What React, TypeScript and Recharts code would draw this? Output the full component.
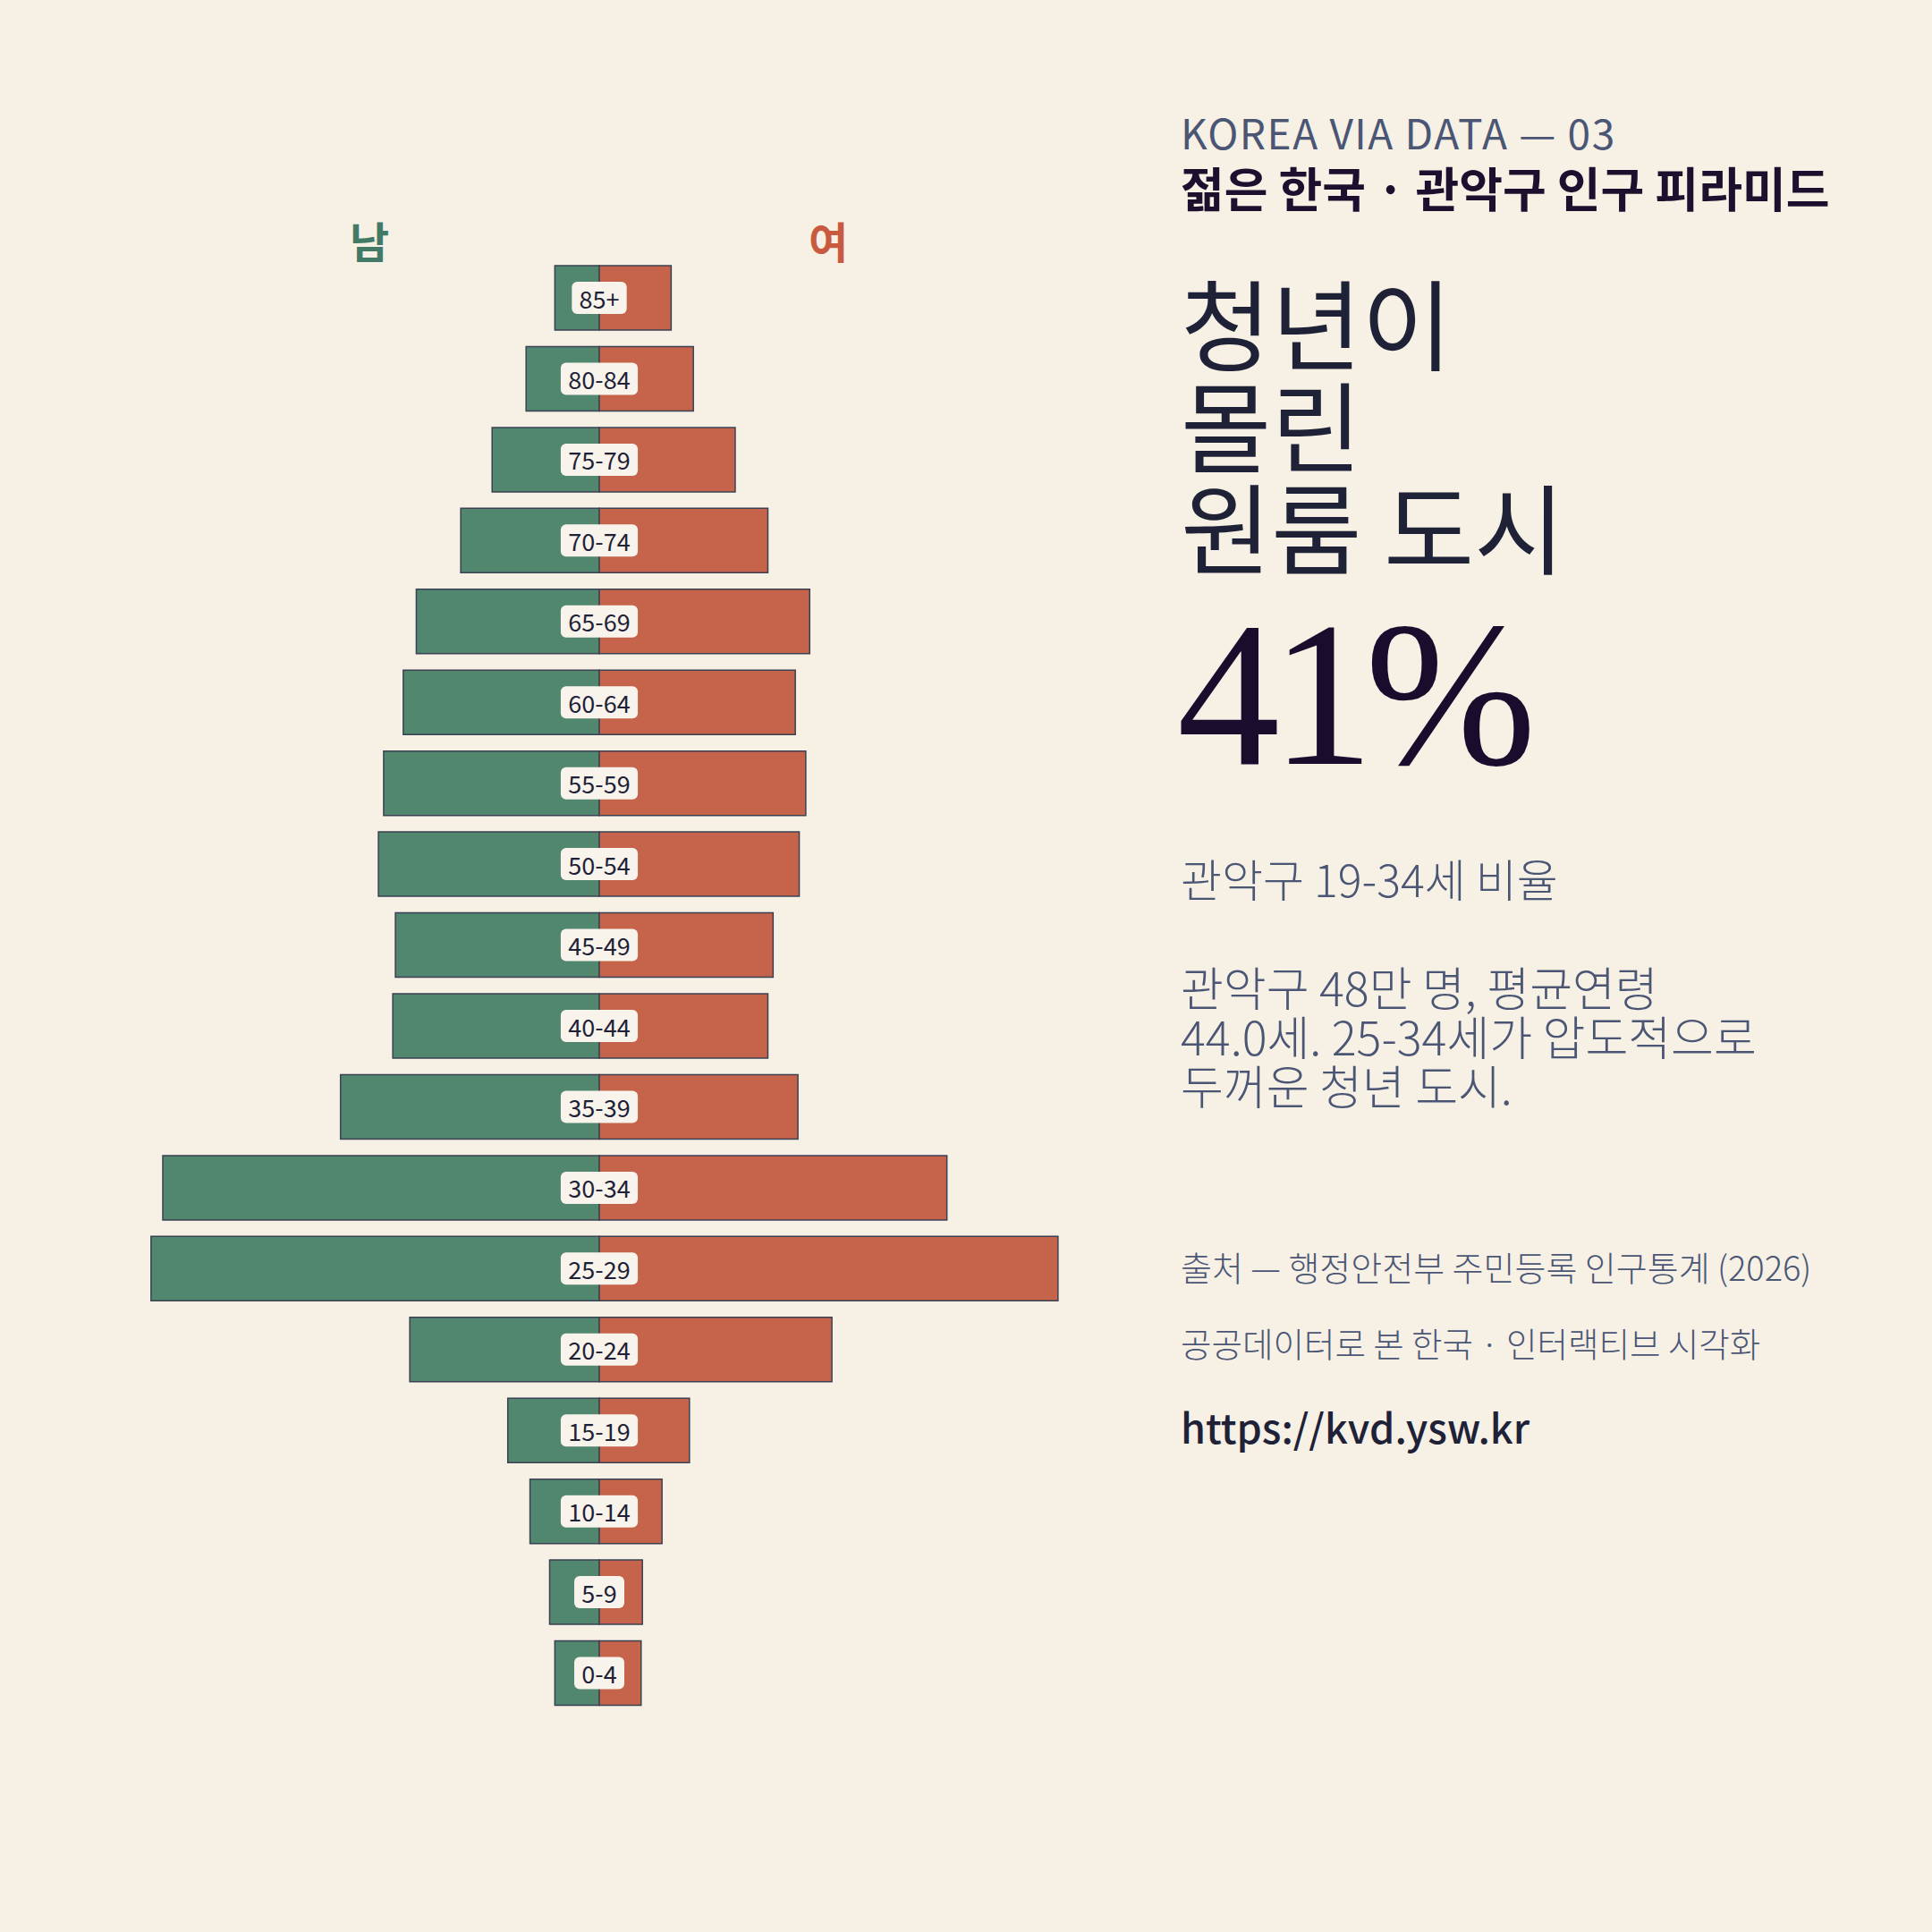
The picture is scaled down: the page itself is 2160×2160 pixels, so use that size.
import { BarChart, Bar, XAxis, YAxis, LabelList } from 'recharts'

const AGES = ['85+', '80-84', '75-79', '70-74', '65-69', '60-64', '55-59', '50-54', '45-49', '40-44', '35-39', '30-34', '25-29', '20-24', '15-19', '10-14', '5-9', '0-4']
const MALE = [3400, 5600, 8200, 10600, 14000, 15000, 16500, 16900, 15600, 15800, 19800, 33400, 34300, 14500, 7000, 5300, 3800, 3400]
const FEMALE = [5500, 7200, 10400, 12900, 16100, 15000, 15800, 15300, 13300, 12900, 15200, 26600, 35100, 17800, 6900, 4800, 3300, 3200]

const HEADLINE = ['청년이', '몰린', '원룸 도시']
const BODY = ['관악구 48만 명, 평균연령', '44.0세. 25-34세가 압도적으로', '두꺼운 청년 도시.']

const GREEN = '#51866f'
const RED = '#c6634b'
const BG = '#f6f0e5'
const INK = '#1f2237'
const MUTED = '#4b5675'
const KR = '"Noto Sans CJK KR", "Noto Sans", sans-serif'

const data = AGES.map((age, i) => ({ age, male: -MALE[i], female: FEMALE[i] }))

// rough text width for the age chips (Noto Sans CJK digits)
function chipWidth(s: string, fs: number) {
  let w = 0
  for (const c of s) w += c === '-' ? 0.36 : 0.56
  return w * fs + 16
}

function AgeChip(props: any) {
  const { x, y, height, value } = props
  const fs = 27
  const w = chipWidth(String(value), fs)
  const cy = y + height / 2
  return (
    <g>
      <rect x={x - w / 2} y={cy - 18} width={w} height={36} rx={6} fill="#f8f4ec" />
      <text x={x} y={cy} textAnchor="middle" dominantBaseline="central" fontSize={fs} fontFamily={KR} fill={INK}>
        {value}
      </text>
    </g>
  )
}

export default function App() {
  return (
    <div style={{ position: 'absolute', left: 0, top: 0, width: 2160, height: 2160, background: BG, overflow: 'hidden' }}>
      <div style={{ position: 'absolute', left: 0, top: 0 }}>
        <BarChart
          width={2160}
          height={2160}
          data={data}
          layout="vertical"
          stackOffset="sign"
          barSize={72}
          margin={{ top: 288, right: 964, bottom: 244, left: 144 }}
        >
          <XAxis type="number" domain={[-36000, 36000]} hide />
          <YAxis type="category" dataKey="age" hide />
          <Bar dataKey="male" stackId="p" fill={GREEN} stroke="#3b4152" strokeWidth={1.5} isAnimationActive={false} />
          <Bar dataKey="female" stackId="p" fill={RED} stroke="#3b4152" strokeWidth={1.5} isAnimationActive={false}>
            <LabelList dataKey="age" content={AgeChip} />
          </Bar>
        </BarChart>
      </div>
      <svg width={2160} height={2160} style={{ position: 'absolute', left: 0, top: 0, pointerEvents: 'none' }}>
        <text x={413} y={268} textAnchor="middle" dominantBaseline="central" fontSize={48} fontWeight={700} fontFamily={KR} fill="#437a66">남</text>
        <text x={926} y={268} textAnchor="middle" dominantBaseline="central" fontSize={48} fontWeight={700} fontFamily={KR} fill="#c85a40">여</text>

        <text x={1320} y={147} dominantBaseline="central" fontSize={46} letterSpacing={1.5} fontFamily={KR} fill={MUTED}>KOREA VIA DATA — 03</text>
        <text x={1320} y={209} dominantBaseline="central" fontSize={53} fontWeight={700} fontFamily={KR} fill="#1d0f2e">젊은 한국 · 관악구 인구 피라미드</text>

        <text x={1320} y={358} dominantBaseline="central" fontSize={110} fontFamily={KR} fill={INK}>
          {HEADLINE.map((line, i) => (
            <tspan key={line} x={1320} dy={i === 0 ? 0 : 114}>{line}</tspan>
          ))}
        </text>

        <text x={1316} y={854} fontSize={230} fontFamily='"Liberation Serif", serif' letterSpacing={-10} fill="#190c2c">41%</text>

        <text x={1320} y={981} dominantBaseline="central" fontSize={50} fontWeight={300} fontFamily={KR} fill={MUTED}>관악구 19-34세 비율</text>
        <text x={1320} y={1102} dominantBaseline="central" fontSize={52} fontWeight={300} fontFamily={KR} fill={MUTED}>
          {BODY.map((line, i) => (
            <tspan key={line} x={1320} dy={i === 0 ? 0 : 55}>{line}</tspan>
          ))}
        </text>

        <text x={1320} y={1415} dominantBaseline="central" fontSize={38} fontWeight={300} fontFamily={KR} fill={MUTED}>출처 — 행정안전부 주민등록 인구통계 (2026)</text>
        <text x={1320} y={1500} dominantBaseline="central" fontSize={37.5} fontWeight={300} fontFamily={KR} fill={MUTED}>공공데이터로 본 한국 · 인터랙티브 시각화</text>
        <text x={1320} y={1594} dominantBaseline="central" fontSize={45} fontWeight={500} fontFamily={KR} fill={INK}>https://kvd.ysw.kr</text>
      </svg>
    </div>
  )
}
